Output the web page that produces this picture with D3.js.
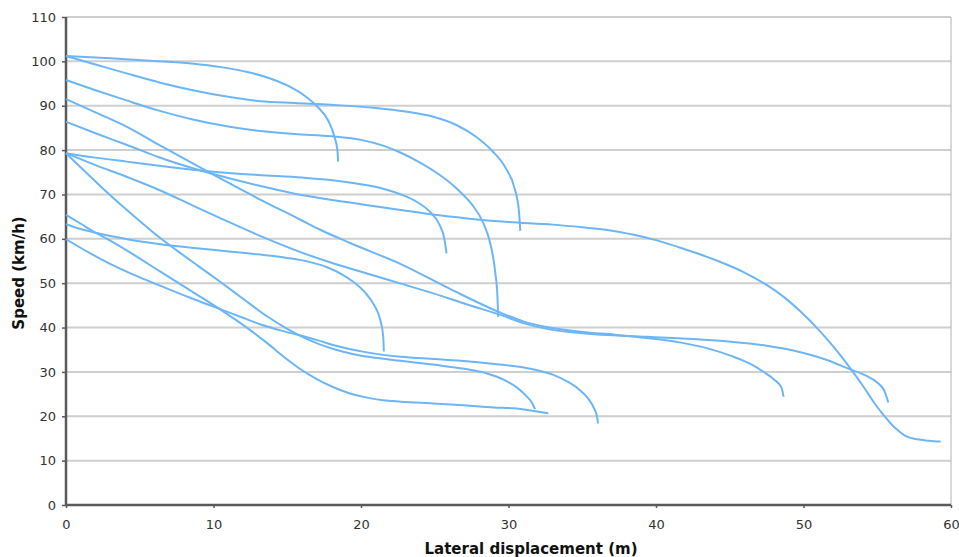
<!DOCTYPE html>
<html><head><meta charset="utf-8">
<script src="https://cdn.jsdelivr.net/npm/d3@7"></script>
<style>body{margin:0;background:#fff;}svg{display:block;}</style>
</head><body>
<svg id="c" width="959" height="557"></svg>
<script>
const xTicks = [0,10,20,30,40,50,60];
const yTicks = [0,10,20,30,40,50,60,70,80,90,100,110];
const xTitle = "Lateral displacement (m)";
const yTitle = "Speed (km/h)";

// each series: [x (m), speed (km/h)]
const sA = [[0,101.2],[3,100.7],[6,100.1],[8.5,99.5],[10.5,98.7],[12.3,97.6],[13.8,96.2],[15.1,94.4],[16.2,92.2],[17.1,89.6],[17.8,86.5],[18.2,83],[18.4,80],[18.45,77.4]];
const sB = [[0,101.2],[2,99.3],[4.1,97.3],[6.4,95.2],[8.6,93.5],[11,92],[13.2,91],[15.5,90.6],[18,90.2],[21,89.5],[23,88.7],[24.9,87.5],[26.5,85.6],[27.8,83],[28.9,79.8],[29.8,76],[30.4,71.5],[30.7,66.5],[30.8,61.8]];
const sC = [[0,95.8],[2,93.5],[4.1,91.2],[6.3,88.9],[8.6,86.9],[11,85.3],[13.2,84.3],[15.5,83.6],[18,83.1],[20,82.3],[21.5,81],[22.7,79.4],[24,77.2],[25.3,74.5],[26.5,71.3],[27.5,67.8],[28.3,63.5],[28.8,58.5],[29.1,52.5],[29.25,47],[29.3,42.4]];
const sD = [[0,91.5],[2,88.5],[4.1,85.3],[6.4,81],[9.8,74.8],[13.2,68.8],[15.9,64.3],[17.2,62.1],[19.3,59],[22.7,54.3],[26.1,48.6],[29.5,43.3],[31,41.4],[32.6,40.1],[35,39],[37.2,38.4],[39.5,37.6],[41.7,36.6],[43.5,35.3],[45.1,33.6],[46.4,31.8],[47.3,30],[48,28.3],[48.5,26.5],[48.65,24.4]];
const sE = [[0,86.4],[2,83.8],[4.1,81.2],[6.3,78.4],[8.6,75.9],[11,73.7],[13.2,71.9],[15.2,70.4],[17.2,69.2],[20,67.8],[22.7,66.5],[25,65.4],[27.2,64.6],[30,63.8],[33,63.2],[35,62.6],[36.7,62],[38.5,60.9],[40,59.7],[42,57.6],[44.2,55],[46,52.4],[47.5,49.6],[48.7,46.8],[49.8,43.6],[51,39.6],[52,35.8],[53,31.6],[54,27],[54.8,23],[55.5,20],[56.2,17.4],[56.9,15.6],[57.7,14.8],[58.5,14.5],[59.3,14.3]];
const sF1 = [[0,79.3],[2,78.3],[4.1,77.4],[7,76.2],[9.8,75.2],[13,74.4],[16,73.8],[18.1,73.2],[20,72.3],[21.5,71.3],[22.7,70],[23.8,68.3],[24.7,66],[25.3,63.3],[25.65,60],[25.8,56.7]];
const sF2 = [[0,79.3],[2,76.6],[4.1,74],[6.4,70.9],[8.6,67.5],[10.9,64],[13.2,60.6],[15.9,57],[18,54.6],[20.4,52.2],[22.7,49.9],[24.9,47.7],[27.2,45.2],[29.5,42.8],[31,41],[32.6,39.7],[35,38.7],[39.4,37.9],[43,37.3],[45.1,36.8],[47.5,35.9],[49.6,34.6],[51.5,32.8],[53,30.8],[54.2,29.2],[55,27.6],[55.5,25.6],[55.75,23.1]];
const sF3 = [[0,79.3],[1.5,74.5],[3,69.8],[4.5,65.4],[6,61.2],[7.5,57.4],[9,53.8],[10.5,50.2],[12,46.5],[13.6,42.6],[15,39.7],[16.2,37.6],[17.2,36.2],[18.3,35],[19.5,34],[20.5,33.4],[22.7,32.5],[25,31.6],[27,30.7],[28.5,29.7],[29.7,28.2],[30.6,26.4],[31.2,24.6],[31.6,23],[31.8,21.6]];
const sG = [[0,65.4],[1,63.4],[2.1,61.2],[3,59.6],[4.5,56.6],[6.4,52.6],[8.5,48.2],[10.5,44],[12,40.6],[13.6,36.6],[15,32.8],[15.9,30.6],[17,28.4],[18.1,26.6],[19.2,25.2],[20.4,24.2],[21.5,23.6],[22.7,23.3],[24.9,22.9],[27,22.5],[29,22],[30.4,21.8],[31.5,21.3],[32.7,20.7]];
const sH = [[0,63.3],[1,62.2],[2.1,61.3],[3.2,60.5],[4.5,59.7],[6.4,58.8],[8.5,58],[10.9,57.2],[13,56.5],[15,55.7],[16.5,54.8],[17.7,53.6],[18.7,52],[19.6,50],[20.3,47.8],[20.9,45],[21.3,41.8],[21.5,38.2],[21.55,34.6]];
const sI = [[0,59.9],[1.5,57],[3.2,54],[5,51.3],[6.4,49.4],[8.5,46.6],[10.5,44.1],[12,42.2],[13.2,40.7],[14.6,39.3],[15.9,38.2],[17.2,37],[18.3,35.9],[19.3,35.1],[20.4,34.4],[22.7,33.4],[25,32.9],[27.2,32.4],[29,31.8],[30.6,31.2],[31.8,30.5],[33,29.4],[34,27.8],[34.8,26],[35.4,24],[35.8,21.8],[36,20],[36.07,18.4]];

const seriesList = [sA,sB,sC,sD,sE,sF1,sF2,sF3,sG,sH,sI];

const svg = d3.select("#c");
const m = {left:66, right:951, top:17, bottom:505};
const x = d3.scaleLinear().domain([0,60]).range([m.left,m.right]);
const y = d3.scaleLinear().domain([0,110]).range([m.bottom,m.top]);
const font = "DejaVu Sans, Verdana, sans-serif";

// gridlines
svg.append("g").selectAll("line").data(yTicks.filter(d=>d>0)).join("line")
  .attr("x1",m.left).attr("x2",m.right)
  .attr("y1",d=>y(d)).attr("y2",d=>y(d))
  .attr("stroke","#cfcfcf").attr("stroke-width",2);

// right border
svg.append("line").attr("x1",m.right).attr("x2",m.right).attr("y1",m.top).attr("y2",m.bottom)
  .attr("stroke","#b0b0b0").attr("stroke-width",1);

// axes
const yAxis = d3.axisLeft(y).tickValues(yTicks).tickSize(4).tickPadding(6).tickFormat(d3.format("d"));
const xAxis = d3.axisBottom(x).tickValues(xTicks).tickSize(3).tickPadding(12).tickFormat(d3.format("d"));
const gy = svg.append("g").attr("transform",`translate(${m.left},0)`).call(yAxis);
const gx = svg.append("g").attr("transform",`translate(0,${m.bottom})`).call(xAxis);
[gy,gx].forEach(g=>{
  g.select(".domain").attr("stroke","#5a5a5a").attr("stroke-width",2.5);
  g.selectAll(".tick line").attr("stroke","#5a5a5a").attr("stroke-width",1.5);
  g.selectAll(".tick text").attr("fill","#333").attr("font-family",font).attr("font-size",13);
});
gy.select(".domain").attr("d",`M0,${m.top}V${m.bottom}`);
gx.select(".domain").attr("d",`M${m.left},0H${m.right}`);

// series
const line = d3.line().x(d=>x(d[0])).y(d=>y(d[1])).curve(d3.curveMonotoneX);
svg.append("g").selectAll("path").data(seriesList).join("path")
  .attr("d",line).attr("fill","none").attr("stroke","#6cb6f8").attr("stroke-width",2)
  .attr("stroke-linecap","butt").attr("stroke-linejoin","round");

// titles
svg.append("text").attr("x",531).attr("y",554).attr("text-anchor","middle")
  .attr("font-family",font).attr("font-weight","bold").attr("font-size",15).attr("fill","#111").text(xTitle);
svg.append("text").attr("transform","translate(24,273) rotate(-90)").attr("text-anchor","middle")
  .attr("font-family",font).attr("font-weight","bold").attr("font-size",15).attr("fill","#111").text(yTitle);
</script>
</body></html>
